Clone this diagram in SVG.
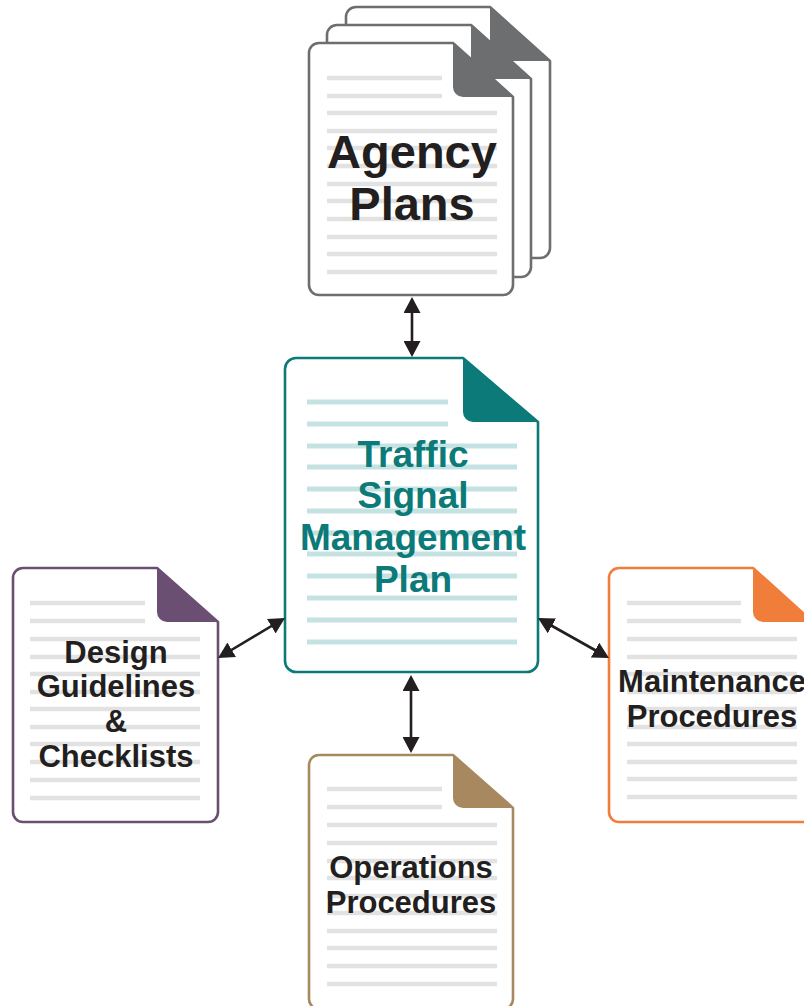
<svg xmlns="http://www.w3.org/2000/svg" width="804" height="1006" viewBox="0 0 804 1006">
<style>
.page{fill:#ffffff;stroke-width:2.6;stroke-linejoin:round}
.lbl{font-family:"Liberation Sans",Arial,sans-serif;font-weight:bold;text-anchor:middle;fill:#231f20}
.gl{stroke:#e2e2e2;stroke-width:4.5}
.tl{stroke:#c5e2e3;stroke-width:5}
.conn{stroke:#231f20;stroke-width:2.6;fill:none;marker-start:url(#ah);marker-end:url(#ah)}
</style>
<defs>
<marker id="ah" markerUnits="userSpaceOnUse" viewBox="0 0 16 17" markerWidth="16" markerHeight="17" refX="13" refY="8.5" orient="auto-start-reverse">
<path d="M0,0 L16,8.5 L0,17 Z" fill="#231f20"/>
</marker>
</defs>
<rect width="804" height="1006" fill="#ffffff"/>

<g id="agency-plans">
<!-- back page -->
<path class="page" stroke="#6d6e70" d="M356,7 H490 L550,61 V248 A10,10 0 0 1 540,258 H356 A10,10 0 0 1 346,248 V17 A10,10 0 0 1 356,7 Z"/>
<path fill="#6d6e70" d="M490,7 L550,61 H500 A10,10 0 0 1 490,51 Z"/>
<!-- middle page -->
<path class="page" stroke="#6d6e70" d="M337,25 H471 L531,79 V267 A10,10 0 0 1 521,277 H337 A10,10 0 0 1 327,267 V35 A10,10 0 0 1 337,25 Z"/>
<path fill="#6d6e70" d="M471,25 L531,79 H481 A10,10 0 0 1 471,69 Z"/>
<!-- front page -->
<path class="page" stroke="#6d6e70" d="M319,43 H453 L513,97 V285 A10,10 0 0 1 503,295 H319 A10,10 0 0 1 309,285 V53 A10,10 0 0 1 319,43 Z"/>
<path fill="#6d6e70" d="M453,43 L513,97 H463 A10,10 0 0 1 453,87 Z"/>
<g class="gl">
<line x1="327" y1="78" x2="442" y2="78"/>
<line x1="327" y1="96" x2="442" y2="96"/>
<line x1="327" y1="113" x2="497" y2="113"/>
<line x1="327" y1="131" x2="497" y2="131"/>
<line x1="327" y1="148" x2="497" y2="148"/>
<line x1="327" y1="166" x2="497" y2="166"/>
<line x1="327" y1="184" x2="497" y2="184"/>
<line x1="327" y1="201" x2="497" y2="201"/>
<line x1="327" y1="219" x2="497" y2="219"/>
<line x1="327" y1="237" x2="497" y2="237"/>
<line x1="327" y1="254" x2="497" y2="254"/>
<line x1="327" y1="272" x2="497" y2="272"/>
</g>
<text class="lbl" font-size="47" x="412" y="168">Agency</text>
<text class="lbl" font-size="47" x="412" y="220">Plans</text>
</g>

<g id="tsmp">
<path class="page" stroke="#0b7a78" d="M296,358 H463 L538,422 V661 A11,11 0 0 1 527,672 H296 A11,11 0 0 1 285,661 V369 A11,11 0 0 1 296,358 Z"/>
<path fill="#0b7a78" d="M463,358 L538,422 H473 A10,10 0 0 1 463,412 Z"/>
<g class="tl">
<line x1="307" y1="402" x2="448" y2="402"/>
<line x1="307" y1="424" x2="448" y2="424"/>
<line x1="307" y1="446" x2="517" y2="446"/>
<line x1="307" y1="467" x2="517" y2="467"/>
<line x1="307" y1="489" x2="517" y2="489"/>
<line x1="307" y1="511" x2="517" y2="511"/>
<line x1="307" y1="533" x2="517" y2="533"/>
<line x1="307" y1="554" x2="517" y2="554"/>
<line x1="307" y1="576" x2="517" y2="576"/>
<line x1="307" y1="598" x2="517" y2="598"/>
<line x1="307" y1="620" x2="517" y2="620"/>
<line x1="307" y1="642" x2="517" y2="642"/>
</g>
<text class="lbl" font-size="37" fill="#0b7a78" style="fill:#0b7a78" x="413" y="467">Traffic</text>
<text class="lbl" font-size="37" style="fill:#0b7a78" x="413" y="508">Signal</text>
<text class="lbl" font-size="37" style="fill:#0b7a78" x="413" y="550">Management</text>
<text class="lbl" font-size="37" style="fill:#0b7a78" x="413" y="592">Plan</text>
</g>

<g id="design-guidelines">
<path class="page" stroke="#6b4f72" d="M23,568 H157 L218,622 V812 A10,10 0 0 1 208,822 H23 A10,10 0 0 1 13,812 V578 A10,10 0 0 1 23,568 Z"/>
<path fill="#6b4f72" d="M157,568 L218,622 H167 A10,10 0 0 1 157,612 Z"/>
<g class="gl">
<line x1="30" y1="603" x2="145" y2="603"/>
<line x1="30" y1="621" x2="145" y2="621"/>
<line x1="30" y1="639" x2="200" y2="639"/>
<line x1="30" y1="657" x2="200" y2="657"/>
<line x1="30" y1="674" x2="200" y2="674"/>
<line x1="30" y1="692" x2="200" y2="692"/>
<line x1="30" y1="709" x2="200" y2="709"/>
<line x1="30" y1="727" x2="200" y2="727"/>
<line x1="30" y1="744" x2="200" y2="744"/>
<line x1="30" y1="762" x2="200" y2="762"/>
<line x1="30" y1="780" x2="200" y2="780"/>
<line x1="30" y1="798" x2="200" y2="798"/>
</g>
<text class="lbl" font-size="31" x="116" y="663">Design</text>
<text class="lbl" font-size="31" x="116" y="697">Guidelines</text>
<text class="lbl" font-size="31" x="116" y="732">&amp;</text>
<text class="lbl" font-size="31" x="116" y="767">Checklists</text>
</g>

<g id="maintenance-procedures">
<path class="page" stroke="#f07d3a" d="M619,568 H753 L813,622 V812 A10,10 0 0 1 803,822 H619 A10,10 0 0 1 609,812 V578 A10,10 0 0 1 619,568 Z"/>
<path fill="#f07d3a" d="M753,568 L813,622 H763 A10,10 0 0 1 753,612 Z"/>
<g class="gl">
<line x1="627" y1="603" x2="741" y2="603"/>
<line x1="627" y1="621" x2="741" y2="621"/>
<line x1="627" y1="639" x2="797" y2="639"/>
<line x1="627" y1="657" x2="797" y2="657"/>
<line x1="627" y1="674" x2="797" y2="674"/>
<line x1="627" y1="692" x2="797" y2="692"/>
<line x1="627" y1="709" x2="797" y2="709"/>
<line x1="627" y1="727" x2="797" y2="727"/>
<line x1="627" y1="744" x2="797" y2="744"/>
<line x1="627" y1="762" x2="797" y2="762"/>
<line x1="627" y1="779" x2="797" y2="779"/>
<line x1="627" y1="797" x2="797" y2="797"/>
</g>
<text class="lbl" font-size="31" x="712" y="692">Maintenance</text>
<text class="lbl" font-size="31" x="712" y="727">Procedures</text>
</g>

<g id="operations-procedures">
<path class="page" stroke="#a8895f" d="M319,755 H453 L513,808 V999 A10,10 0 0 1 503,1009 H319 A10,10 0 0 1 309,999 V765 A10,10 0 0 1 319,755 Z"/>
<path fill="#a8895f" d="M453,755 L513,808 H463 A10,10 0 0 1 453,798 Z"/>
<g class="gl">
<line x1="327" y1="789" x2="442" y2="789"/>
<line x1="327" y1="807" x2="442" y2="807"/>
<line x1="327" y1="825" x2="497" y2="825"/>
<line x1="327" y1="843" x2="497" y2="843"/>
<line x1="327" y1="861" x2="497" y2="861"/>
<line x1="327" y1="878" x2="497" y2="878"/>
<line x1="327" y1="896" x2="497" y2="896"/>
<line x1="327" y1="913" x2="497" y2="913"/>
<line x1="327" y1="931" x2="497" y2="931"/>
<line x1="327" y1="948" x2="497" y2="948"/>
<line x1="327" y1="966" x2="497" y2="966"/>
<line x1="327" y1="984" x2="497" y2="984"/>
</g>
<text class="lbl" font-size="31" x="411" y="878">Operations</text>
<text class="lbl" font-size="31" x="411" y="913">Procedures</text>
</g>

<g id="connectors">
<path class="conn" d="M412,300 L412,354"/>
<path class="conn" d="M411,678 L411,750"/>
<path class="conn" d="M220.6,656.5 L282.4,619.5"/>
<path class="conn" d="M540.6,619.5 L606.4,656.5"/>
</g>
</svg>
